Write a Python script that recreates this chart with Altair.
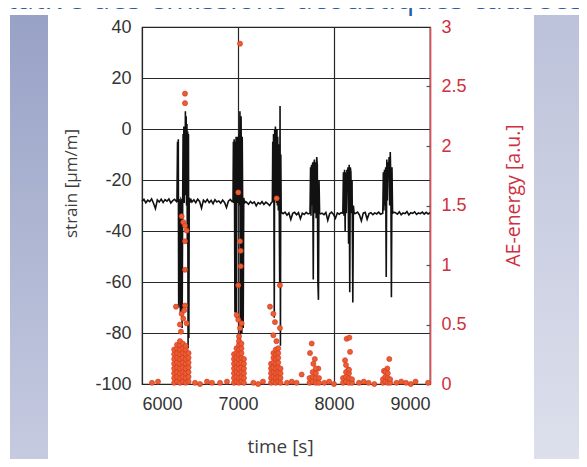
import altair as alt
import pandas as pd

# ---------------- strain signal (time [s], strain [µm/m]) ----------------
strain_time = [
    6000, 6020, 6040, 6060, 6080, 6100, 6120, 6140, 6160, 6180, 6200, 6220, 6240, 6260, 6280, 6300, 6320, 6340, 6360,
    6364, 6370, 6374, 6378, 6382, 6386, 6394, 6400, 6406, 6412, 6418, 6424, 6428, 6432, 6436, 6440, 6444, 6448,
    6452, 6456, 6460, 6464, 6468, 6472, 6476, 6480, 6484, 6488, 6492, 6500, 6510,
    6520, 6540, 6560, 6580, 6600, 6620, 6640, 6660, 6680, 6700, 6720, 6740, 6760, 6780, 6800, 6820, 6840, 6860,
    6880, 6900, 6920, 6940,
    6948, 6952, 6956, 6960, 6964, 6968, 6972, 6976, 6980, 6984, 6988, 6992, 6996, 7000, 7004, 7008, 7012, 7016,
    7020, 7024, 7028, 7032, 7036, 7040, 7044, 7048, 7054, 7060, 7068, 7080,
    7090, 7110, 7130, 7150, 7170, 7190, 7210, 7230, 7250, 7270, 7290, 7310, 7330, 7350,
    7358, 7362, 7366, 7370, 7374, 7378, 7382, 7386, 7390, 7394, 7398, 7402, 7406, 7410, 7414, 7420, 7426, 7430,
    7434, 7438, 7442, 7446, 7450, 7458,
    7470, 7490, 7510, 7530, 7550, 7570, 7590, 7610, 7630, 7650, 7670, 7690, 7710, 7730,
    7750, 7756, 7760, 7766, 7772, 7778, 7784, 7790, 7796, 7802, 7808, 7814, 7820, 7826, 7832, 7838, 7844, 7850, 7860,
    7875, 7895, 7915, 7935, 7955, 7975, 7995, 8015, 8035, 8055, 8075,
    8092, 8098, 8104, 8110, 8116, 8122, 8128, 8134, 8140, 8146, 8152, 8158, 8164, 8170, 8176, 8182, 8188, 8196,
    8202, 8210,
    8225, 8245, 8265, 8285, 8305, 8325, 8345, 8365, 8385, 8405, 8425, 8445, 8465, 8485,
    8508, 8514, 8520, 8526, 8532, 8538, 8544, 8550, 8556, 8562, 8568, 8574, 8580, 8586, 8592, 8598, 8604, 8610, 8620,
    8640, 8660, 8680, 8700, 8720, 8740, 8760, 8780, 8800, 8820, 8840, 8860, 8880, 8900, 8920, 8940, 8960, 8980, 9000,
]
strain_value = [
    -28.4, -27.6, -28.9, -27.9, -28.5, -27.4, -29.1, -31.2, -27.8, -28.6, -27.5, -28.8, -27.7, -28.3, -27.4, -29.0,
    -28.1, -27.6, -28.5,
    -28.2, -5, -28.6, -4, -70, -27.5, -29, -72, -27.6, -28, -78, -26, -2, -27, 1, -29, 0, -26,
    7, -25, 5, -30, 2, -45, -1, -86, -2, -82, -27, -28.8, -27.7,
    -28.6, -27.8, -28.9, -27.5, -28.4, -31.0, -27.9, -28.7, -27.6, -28.9, -28.0, -29.3, -27.7, -28.6, -28.2, -29.1,
    -27.9, -28.8, -30.8, -28.3, -27.6, -28.5,
    -28.5, -5, -29, -4, -27, -72, -5, -28, -3, -74, -5, -27, -3, -29, -4, -26, -2, -30,
    7, -84, -1, 5, -22, -80, -3, -26, -78, -27, -29, -28.5,
    -28.8, -29.5, -28.4, -29.2, -28.6, -30.1, -28.9, -29.4, -28.5, -29.6, -28.7, -29.3, -30.0, -28.8,
    -28.6, -5, -28, -2, -27, -74, 0, -28, 1, -27, -1, -29, 0, -30, -3, -32, -6, -33,
    -60, 9, -85, -10, -33, -32.8,
    -33.2, -32.6, -33.8, -32.9, -35.5, -33.1, -32.7, -33.6, -32.8, -35.2, -33.0, -33.5, -32.7, -33.3,
    -33, -15, -34, -14, -30, -13, -59, -14, -12, -33, -13, -35, -11, -14, -60, -67, -20, -33, -33.3,
    -33.0, -33.6, -32.7, -35.8, -33.2, -32.6, -33.5, -35.0, -32.9, -33.4, -32.8,
    -33, -17, -34, -16, -40, -17, -33, -16, -18, -15, -45, -14, -64, -15, -17, -33, -20, -68,
    -30, -33.2,
    -33.1, -32.6, -33.7, -36.0, -33.0, -32.7, -35.4, -33.2, -32.8, -33.6, -32.9, -33.3, -32.6, -33.4,
    -33, -17, -32, -16, -30, -15, -58, -12, -28, -13, -17, -11, -30, -9, -20, -66, -15, -33, -32.6,
    -32.8, -33.4, -32.5, -33.6, -32.9, -33.2, -32.4, -33.7, -32.8, -33.1, -32.5, -33.5, -32.9, -33.2, -32.6,
    -33.4, -32.7, -33.3, -32.8,
]

# ---------------- AE energy events (time [s], energy [a.u.]) ----------------
ae_time = [
    6448, 6448, 6413, 6430, 6448, 6465, 6448, 6448, 6354, 6448, 6413, 6430, 6465, 6406, 6440, 6395,
    7021, 7003, 7021, 7028, 7028, 7003, 6986, 7003, 7038, 7021, 7010,
    7403, 7437, 7333, 7368, 7385, 7437, 7368, 7400,
    7663,
    7768, 7750, 7785, 7837, 7800,
    8132, 8160, 8167, 8115, 8150, 8125,
    8576, 8555, 8520,
    6104, 6167, 6552, 6604, 6677, 6729, 6813, 6885, 7160, 7210, 7260, 7510, 7560, 7610,
    7900, 7950, 8000, 8260, 8310, 8360, 8420, 8650, 8700, 8750, 8800, 8850, 8980,
]
ae_energy = [
    2.44, 2.36, 1.41, 1.36, 1.33, 1.29, 1.20, 0.96, 0.65, 0.66, 0.59, 0.55, 0.51, 0.44, 0.62, 0.50,
    2.86, 1.61, 1.20, 1.12, 0.99, 0.83, 0.58, 0.54, 0.51, 0.47, 0.40,
    1.56, 0.83, 0.65, 0.59, 0.52, 0.47, 0.41, 0.36,
    0.08,
    0.34, 0.26, 0.17, 0.13, 0.21,
    0.38, 0.39, 0.27, 0.20, 0.12, 0.16,
    0.21, 0.13, 0.11,
    0.01, 0.02, 0.01, 0.00, 0.02, 0.01, 0.01, 0.02, 0.01, 0.00, 0.02, 0.01, 0.02, 0.01,
    0.01, 0.02, 0.00, 0.01, 0.02, 0.01, 0.00, 0.01, 0.02, 0.01, 0.00, 0.02, 0.01,
]

# dense bursts of events near zero energy: one column per time value
burst_time = [
    6335, 6365, 6395, 6425, 6455, 6485,
    6958, 6984, 7010, 7036, 7062,
    7344, 7369, 7394, 7419, 7443,
    7745, 7778, 7811, 7844,
    8094, 8125, 8156, 8188,
    8510, 8535, 8560, 8585,
]
burst_energy = [
    [0.01, 0.05, 0.09, 0.13, 0.17, 0.21, 0.25, 0.29],
    [0.02, 0.06, 0.10, 0.14, 0.18, 0.22, 0.26, 0.30, 0.33],
    [0.01, 0.05, 0.09, 0.13, 0.17, 0.21, 0.25, 0.29, 0.33, 0.36],
    [0.02, 0.06, 0.10, 0.14, 0.18, 0.22, 0.26, 0.30, 0.34],
    [0.01, 0.05, 0.09, 0.13, 0.17, 0.21, 0.25, 0.29, 0.32],
    [0.02, 0.06, 0.10, 0.14, 0.18, 0.22, 0.26],
    [0.01, 0.05, 0.09, 0.13, 0.17, 0.21, 0.25],
    [0.02, 0.06, 0.10, 0.14, 0.18, 0.22, 0.26, 0.30],
    [0.01, 0.05, 0.09, 0.13, 0.17, 0.21, 0.25, 0.29, 0.33, 0.36],
    [0.02, 0.06, 0.10, 0.14, 0.18, 0.22, 0.26, 0.30, 0.34],
    [0.01, 0.05, 0.09, 0.13, 0.17, 0.21],
    [0.01, 0.05, 0.09, 0.13, 0.17],
    [0.02, 0.06, 0.10, 0.14, 0.18, 0.22, 0.26],
    [0.01, 0.05, 0.09, 0.13, 0.17, 0.21, 0.25, 0.29],
    [0.02, 0.06, 0.10, 0.14, 0.18, 0.22, 0.26, 0.30],
    [0.01, 0.05, 0.09, 0.13],
    [0.01, 0.05],
    [0.02, 0.06, 0.10],
    [0.01, 0.05, 0.09, 0.13],
    [0.01, 0.05],
    [0.01, 0.05],
    [0.02, 0.06, 0.10],
    [0.01, 0.05, 0.09, 0.12],
    [0.01, 0.04],
    [0.01, 0.04],
    [0.02, 0.06, 0.10],
    [0.01, 0.05, 0.09],
    [0.01, 0.04],
]

x_ticks = [6000, 7000, 8000, 9000]
strain_ticks = [-100, -80, -60, -40, -20, 0, 20, 40]
energy_ticks = [0, 0.5, 1, 1.5, 2, 2.5, 3]
heading_text = "itative des émissions acoustiques causées par"

# ---------------- tables ----------------
line_df = pd.DataFrame({"t": strain_time, "strain": strain_value})
pts_t = list(ae_time)
pts_e = list(ae_energy)
for bt, levels in zip(burst_time, burst_energy):
    for lv in levels:
        pts_t.append(bt)
        pts_e.append(lv)
ae_df = pd.DataFrame({"t": pts_t, "e": pts_e})
one = pd.DataFrame({"k": [0]})

RED = "#cf3040"
LABEL_FONT = "Liberation Sans"
TITLE_FONT = "Open Sans"

x_scale = alt.Scale(domain=[6000, 9000], nice=False, zero=False)
e_scale = alt.Scale(domain=[0, 3], nice=False, zero=True)

x_axis = alt.Axis(
    values=x_ticks, grid=True, gridColor="#262626", gridWidth=1.2,
    ticks=False, domain=False, labelExpr="toString(datum.value)",
    labelFont=LABEL_FONT, labelFontSize=18, labelColor="#333333", labelPadding=11,
    title="time [s]", titleFont=TITLE_FONT, titleFontSize=19, titleFontWeight="normal",
    titleColor="#3c3c3c", titleX=138, titleY=68, titleAlign="center", titleBaseline="alphabetic",
)
x_enc = alt.X("t:Q", scale=x_scale, axis=x_axis)

# decorative slide bands and heading
left_band = alt.Chart(one).mark_rect(
    fill=alt.LinearGradient(
        gradient="linear",
        stops=[alt.GradientStop(offset=0, color="#98a2c6"), alt.GradientStop(offset=1, color="#c6cbe0")],
        x1=0, x2=0, y1=0, y2=1,
    )
).encode(x=alt.value(-132), x2=alt.value(-94), y=alt.value(-12), y2=alt.value(440))

right_band = alt.Chart(one).mark_rect(
    fill=alt.LinearGradient(
        gradient="linear",
        stops=[alt.GradientStop(offset=0, color="#bcc2da"), alt.GradientStop(offset=1, color="#dde0ec")],
        x1=0, x2=0, y1=0, y2=1,
    )
).encode(x=alt.value(392), x2=alt.value(440), y=alt.value(-12), y2=alt.value(440))

heading = alt.Chart(one).mark_text(
    text=heading_text, align="left", baseline="alphabetic",
    font=TITLE_FONT, fontSize=30, color="#2b5aa6",
).encode(x=alt.value(-143), y=alt.value(-18))

strain_line = alt.Chart(line_df).mark_line(color="#111111", strokeWidth=1.6).encode(
    x=x_enc,
    y=alt.Y(
        "strain:Q", scale=alt.Scale(domain=[-100, 40], nice=False, zero=False),
        axis=alt.Axis(
            orient="left", values=strain_ticks, grid=True, gridColor="#262626", gridWidth=1.2,
            ticks=False, domain=False, labelExpr="toString(datum.value)",
            labelFont=LABEL_FONT, labelFontSize=18, labelColor="#333333", labelPadding=11,
            title="strain [µm/m]", titleFont=TITLE_FONT, titleFontSize=17, titleFontWeight="normal",
            titleColor="#3c3c3c", titleAngle=270, titleX=-71, titleY=156,
            titleAlign="center", titleBaseline="middle",
        ),
    ),
)

ae_points = alt.Chart(ae_df).mark_circle(
    size=26, fill="#e6612c", stroke="#de2e2c", strokeWidth=0.6, opacity=1
).encode(
    x=x_enc,
    y=alt.Y(
        "e:Q", scale=e_scale,
        axis=alt.Axis(
            orient="right", values=energy_ticks, labelExpr="toString(datum.value)",
            grid=False, ticks=False,
            domain=True, domainColor="#d9505a", domainWidth=1.5,
            labelFont=LABEL_FONT, labelFontSize=18, labelColor=RED, labelPadding=11,
            title="AE-energy [a.u.]", titleFont=TITLE_FONT, titleFontSize=19.5, titleFontWeight="normal",
            titleColor=RED, titleAngle=270, titleX=83, titleY=168,
            titleAlign="center", titleBaseline="middle",
        ),
    ),
)

inner_ticks = alt.Chart(ae_df).mark_circle(opacity=0).encode(
    x=x_enc,
    y=alt.Y(
        "e:Q", scale=e_scale,
        axis=alt.Axis(
            orient="right", offset=-4, values=[0, 0.5, 1, 1.5, 2, 2.5], labels=False, domain=False,
            grid=False, ticks=True, tickSize=4, tickColor="#555555", tickWidth=1.2, title="",
        ),
    ),
)

chart = (
    alt.layer(left_band, right_band, heading, strain_line, ae_points, inner_ticks)
    .resolve_scale(y="independent")
    .properties(
        width=288, height=357,
        autosize=alt.AutoSizeParams(type="none"),
        padding={"left": 134, "top": 19, "right": 149, "bottom": 75},
        background="white",
    )
    .configure_view(stroke="#1e1e1e", strokeWidth=1.2)
)

chart.save("out.html", embed_options={"renderer": "svg", "actions": False})
